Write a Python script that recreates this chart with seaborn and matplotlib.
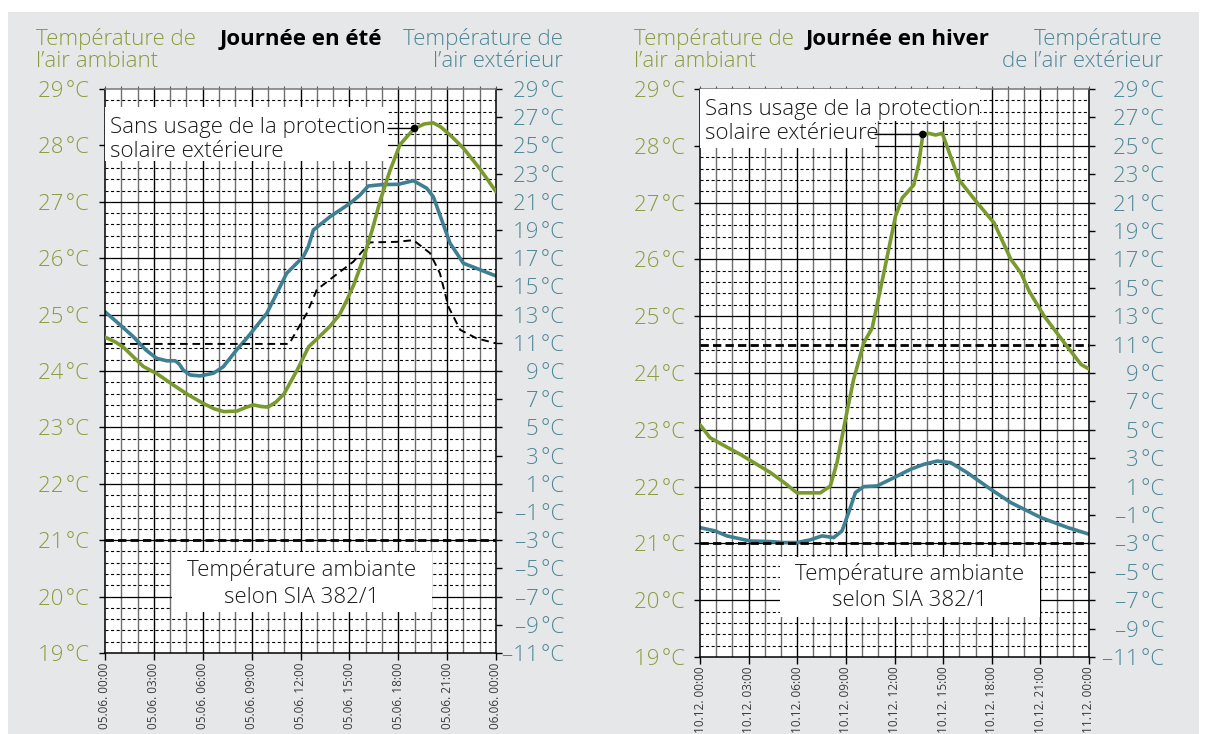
import matplotlib
matplotlib.use("Agg")
import numpy as np
import pandas as pd
import matplotlib.pyplot as plt
from matplotlib.patches import Rectangle
import seaborn as sns

# ---------------------------------------------------------------- data ----
# Journée en été (05.06.) : heures depuis minuit
ete_heures_amb = [0, 0.6, 1.1, 2.35, 3.2, 4.2, 5.1, 6.0, 6.7, 7.3, 8.1, 8.6, 9.1,
                  9.6, 10.0, 10.5, 11.0, 11.8, 12.5, 13.2, 13.8, 14.4, 14.85, 15.3,
                  15.9, 16.4, 16.9, 17.5, 18.1, 18.55, 19.0, 19.6, 20.15, 20.6,
                  21.2, 22.0, 23.0, 24.0]
ete_amb = [24.60, 24.52, 24.43, 24.08, 23.95, 23.75, 23.58, 23.43, 23.33, 23.28,
           23.29, 23.35, 23.40, 23.37, 23.36, 23.45, 23.60, 24.02, 24.43, 24.62,
           24.79, 25.00, 25.26, 25.55, 26.03, 26.50, 27.03, 27.56, 28.01, 28.16,
           28.30, 28.38, 28.40, 28.33, 28.18, 27.95, 27.59, 27.18]
ete_pic = 30  # index of the marked point on the room temperature curve

ete_heures_ext = [0, 0.8, 1.74, 2.5, 3.17, 3.8, 4.3, 4.55, 4.8, 5.22, 5.83, 6.65,
                  7.26, 8.08, 8.7, 9.93, 10.54, 11.15, 12.17, 12.48, 12.79, 13.81,
                  15.04, 15.65, 16.16, 17.0, 18.0, 18.93, 19.75, 20.15, 20.67,
                  21.18, 22.0, 22.8, 24.0]
ete_ext = [13.2, 12.4, 11.43, 10.5, 9.9, 9.72, 9.73, 9.5, 9.07, 8.72, 8.65, 8.84,
           9.3, 10.5, 11.32, 13.09, 14.5, 15.93, 17.1, 17.82, 19.0, 19.94, 20.89,
           21.48, 22.12, 22.22, 22.24, 22.5, 21.96, 21.36, 19.7, 18.06, 16.64,
           16.28, 15.74]

ete_heures_prot = [0, 11.3, 11.56, 12.38, 13.0, 14.02, 15.25, 16.27, 17.9, 18.93,
                   19.95, 20.56, 21.08, 21.8, 22.8, 24.0]
ete_prot = [24.48, 24.48, 24.61, 25.02, 25.44, 25.67, 25.94, 26.28, 26.29, 26.32,
            26.09, 25.73, 25.14, 24.73, 24.58, 24.49]

# Journée en hiver (10.12.)
hiver_heures_amb = [0, 0.62, 1.5, 2.47, 3.4, 4.33, 5.2, 5.98, 6.7, 7.42, 8.04, 8.45,
                    8.97, 9.48, 10.1, 10.62, 11.34, 12.06, 12.47, 13.19, 13.5,
                    13.75, 14.12, 14.53, 14.95, 15.98, 17.12, 18.15, 19.18, 19.8,
                    20.31, 21.24, 22.48, 23.51, 24.0]
hiver_amb = [23.09, 22.86, 22.72, 22.57, 22.41, 22.25, 22.07, 21.89, 21.89, 21.89,
             22.01, 22.42, 23.18, 23.89, 24.53, 24.79, 25.76, 26.76, 27.08, 27.31,
             27.69, 28.20, 28.22, 28.19, 28.22, 27.40, 26.99, 26.64, 26.00, 25.76,
             25.44, 25.00, 24.53, 24.15, 24.07]
hiver_pic = 21

hiver_heures_ext = [0, 0.93, 1.65, 3.09, 4.33, 5.15, 5.98, 6.8, 7.53, 8.25, 8.76,
                    9.17, 9.59, 10.1, 10.93, 11.96, 12.99, 13.81, 14.64, 15.46,
                    16.49, 17.94, 19.18, 21.03, 22.68, 24.0]
hiver_ext = [-1.89, -2.12, -2.47, -2.83, -2.87, -2.94, -2.94, -2.75, -2.47, -2.59,
             -2.12, -0.83, 0.58, 1.0, 1.05, 1.63, 2.22, 2.57, 2.8, 2.69, 1.98, 0.81,
             -0.13, -1.18, -1.88, -2.35]
hiver_limite = 24.5

sia_min = 21.0

heures_ticks = list(range(0, 25, 3))
ete_xlabels = ["05.06. 00:00", "05.06. 03:00", "05.06. 06:00", "05.06. 09:00",
               "05.06. 12:00", "05.06. 15:00", "05.06. 18:00", "05.06. 21:00",
               "06.06. 00:00"]
hiver_xlabels = ["10.12. 00:00", "10.12. 03:00", "10.12. 06:00", "10.12. 09:00",
                 "10.12. 12:00", "10.12. 15:00", "10.12. 18:00", "10.12. 21:00",
                 "11.12. 00:00"]
amb_ticks = list(range(19, 30))
ext_ticks = list(range(-11, 30, 2))

# ---------------------------------------------------------------- style ---
VERT = "#7a9a2e"
BLEU = "#3f7f92"
VERT_TXT = "#8b9b3c"
BLEU_TXT = "#4e8797"
FOND = "#e6e7e8"
TXT = "#1a1a1a"
FS = 16

sns.set_style("white")
plt.rcParams["font.family"] = ["Open Sans", "DejaVu Sans"]
plt.rcParams["font.weight"] = "light"
plt.rcParams["lines.scale_dashes"] = False

W, H = 1208, 734
fig = plt.figure(figsize=(W / 100, H / 100), dpi=100)
fig.patch.set_facecolor("white")
fig.patches.append(Rectangle((8 / W, 0), (1199 - 8) / W, (H - 12) / H,
                             transform=fig.transFigure, facecolor=FOND,
                             edgecolor="none", zorder=-10))


def px_rect(x0, y0, x1, y1):
    return [x0 / W, 1 - y1 / H, (x1 - x0) / W, (y1 - y0) / H]


def ftext(x, y, s, **kw):
    fig.text(x / W, 1 - y / H, s, **kw)


def white_box(ax, x0, y0, x1, y1):
    ax.add_patch(Rectangle((x0 / W, 1 - y1 / H), (x1 - x0) / W, (y1 - y0) / H,
                           transform=fig.transFigure, facecolor="white",
                           edgecolor="none", zorder=3))


def fmt(v):
    return f"{v}\u200a°C".replace("-", "–")


def panel(box, h_amb, amb, h_ext, ext, xlabels, pad_l, pad_r):
    rect = px_rect(*box)
    # background grid
    bg = fig.add_axes(rect, zorder=1)
    bg.set_facecolor("white")
    bg.set_xlim(0, 24)
    bg.set_ylim(19, 29)
    for h in range(1, 24):
        bg.axvline(h, color="black" if h % 3 == 0 else "#6e6e6e", lw=1.0, zorder=1)
    for k in range(1, 50):
        t = 19 + k * 0.2
        if k % 5 == 0:
            bg.axhline(t, color="black", lw=0.9, zorder=2)
        else:
            bg.axhline(t, color="black", lw=0.8, linestyle=(0, (2.2, 1.8)), zorder=2)
    bg.set_xticks(range(25))
    bg.set_yticks([])
    bg.tick_params(axis="x", top=True, bottom=False, labelbottom=False,
                   direction="out", length=2.5, width=0.8, color="#555555")
    for s in bg.spines.values():
        s.set_visible(False)

    # outside temperature (right scale)
    ax2 = fig.add_axes(rect, zorder=2)
    ax2.patch.set_visible(False)
    df_ext = pd.DataFrame({"heure": h_ext, "temp": ext})
    sns.lineplot(data=df_ext, x="heure", y="temp", ax=ax2, color=BLEU, lw=2.6,
                 solid_joinstyle="round", solid_capstyle="round")
    ax2.set_xlim(0, 24)
    ax2.set_ylim(-11, 29)
    ax2.xaxis.set_visible(False)
    ax2.yaxis.tick_right()
    ax2.set_yticks(ext_ticks, [fmt(v) for v in ext_ticks])
    ax2.tick_params(axis="y", right=True, left=False, direction="out", length=4,
                    width=1, color="black", labelsize=FS, labelcolor=BLEU_TXT,
                    pad=pad_r)
    for lab in ax2.get_yticklabels():
        lab.set_horizontalalignment("right")
    ax2.set_ylabel("")
    for s in ax2.spines.values():
        s.set_visible(False)

    # room temperature (left scale)
    ax = fig.add_axes(rect, zorder=3)
    ax.patch.set_visible(False)
    df_amb = pd.DataFrame({"heure": h_amb, "temp": amb})
    sns.lineplot(data=df_amb, x="heure", y="temp", ax=ax, color=VERT, lw=2.6,
                 solid_joinstyle="round", solid_capstyle="round", zorder=4)
    ax.axhline(sia_min, color="black", lw=2.0, linestyle=(0, (6, 3)), zorder=3)
    ax.set_xlim(0, 24)
    ax.set_ylim(19, 29)
    ax.set_xticks(heures_ticks, xlabels, rotation=90, fontweight="normal")
    ax.set_yticks(amb_ticks, [fmt(v) for v in amb_ticks])
    ax.tick_params(axis="y", left=True, direction="out", length=4, width=1,
                   color="black", labelsize=FS, labelcolor=VERT_TXT, pad=pad_l)
    ax.tick_params(axis="x", bottom=True, direction="out", length=5, width=1,
                   color="black", labelsize=8.5, labelcolor="#3a3a3a", pad=2)
    ax.set_xlabel("")
    ax.set_ylabel("")
    for name, s in ax.spines.items():
        s.set_visible(True)
        s.set_color("#777777" if name == "top" else "black")
        s.set_linewidth(1.1)
    return ax


# ---------------------------------------------------------- été panel ----
ax_e = panel((105, 89, 496, 653), ete_heures_amb, ete_amb, ete_heures_ext, ete_ext,
             ete_xlabels, pad_l=7.5, pad_r=45)
df_prot = pd.DataFrame({"heure": ete_heures_prot, "temp": ete_prot})
sns.lineplot(data=df_prot, x="heure", y="temp", ax=ax_e, color="black", lw=1.4,
             linestyle=(0, (5.5, 3.5)), zorder=3.5)
ax_e.set_xlabel("")
ax_e.set_ylabel("")

white_box(ax_e, 105, 107, 388, 161)
ftext(110.5, 133, "Sans usage de la protection", fontsize=FS, color=TXT,
      va="baseline", zorder=5)
ftext(110.5, 157, "solaire extérieure", fontsize=FS, color=TXT,
      va="baseline", zorder=5)
ax_e.annotate("", xy=(ete_heures_amb[ete_pic], ete_amb[ete_pic]),
              xytext=(388, ete_amb[ete_pic]), textcoords=("figure pixels", "data"),
              arrowprops=dict(arrowstyle="-", lw=1, color="black",
                              shrinkA=0, shrinkB=0), zorder=5)
sns.scatterplot(x=[ete_heures_amb[ete_pic]], y=[ete_amb[ete_pic]], ax=ax_e,
                color="black", s=30, edgecolor="none", zorder=6)

white_box(ax_e, 172, 552, 432, 612)
ftext(302, 576, "Température ambiante", fontsize=FS, color=TXT,
      ha="center", va="baseline", zorder=5)
ftext(302, 603, "selon SIA 382/1", fontsize=FS, color=TXT,
      ha="center", va="baseline", zorder=5)

ftext(36, 45, "Température de", fontsize=FS, color=VERT_TXT, va="baseline")
ftext(36, 67, "l’air ambiant", fontsize=FS, color=VERT_TXT, va="baseline")
ftext(220, 45, "Journée en été", fontsize=FS, fontweight="bold", color="black",
      va="baseline")
ftext(563, 45, "Température de", fontsize=FS, color=BLEU_TXT, ha="right",
      va="baseline")
ftext(563, 67, "l’air extérieur", fontsize=FS, color=BLEU_TXT, ha="right",
      va="baseline")

# -------------------------------------------------------- hiver panel ----
ax_h = panel((700, 89, 1089, 657), hiver_heures_amb, hiver_amb, hiver_heures_ext,
             hiver_ext, hiver_xlabels, pad_l=7, pad_r=50)
ax_h.axhline(hiver_limite, color="black", lw=2.0, linestyle=(0, (6, 3)), zorder=3)

white_box(ax_h, 700, 89, 980, 121)
white_box(ax_h, 700, 121, 875, 148)
ftext(705, 115, "Sans usage de la protection", fontsize=FS, color=TXT,
      va="baseline", zorder=5)
ftext(705, 139, "solaire extérieure", fontsize=FS, color=TXT,
      va="baseline", zorder=5)
ax_h.annotate("", xy=(hiver_heures_amb[hiver_pic], hiver_amb[hiver_pic]),
              xytext=(875, hiver_amb[hiver_pic]), textcoords=("figure pixels", "data"),
              arrowprops=dict(arrowstyle="-", lw=1, color="black",
                              shrinkA=0, shrinkB=0), zorder=5)
sns.scatterplot(x=[hiver_heures_amb[hiver_pic]], y=[hiver_amb[hiver_pic]], ax=ax_h,
                color="black", s=30, edgecolor="none", zorder=6)

white_box(ax_h, 780, 557, 1040, 617)
ftext(910, 580, "Température ambiante", fontsize=FS, color=TXT,
      ha="center", va="baseline", zorder=5)
ftext(910, 606, "selon SIA 382/1", fontsize=FS, color=TXT,
      ha="center", va="baseline", zorder=5)

ftext(634, 45, "Température de", fontsize=FS, color=VERT_TXT, va="baseline")
ftext(634, 67, "l’air ambiant", fontsize=FS, color=VERT_TXT, va="baseline")
ftext(806, 45, "Journée en hiver", fontsize=FS, fontweight="bold", color="black",
      va="baseline")
ftext(1163, 45, "Température", fontsize=FS, color=BLEU_TXT, ha="right",
      va="baseline")
ftext(1163, 67, "de l’air extérieur", fontsize=FS, color=BLEU_TXT, ha="right",
      va="baseline")

fig.savefig("out.png", dpi=100, facecolor=fig.get_facecolor())
